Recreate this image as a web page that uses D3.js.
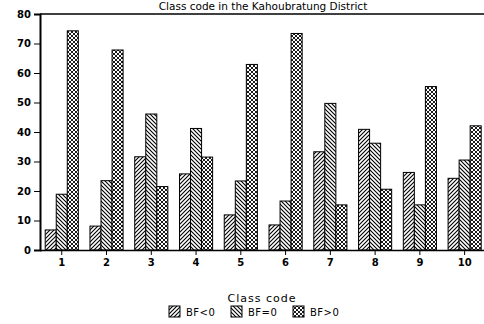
<!DOCTYPE html>
<html><head><meta charset="utf-8">
<script src="https://cdn.jsdelivr.net/npm/d3@7"></script>
<style>body{margin:0;background:#fff}svg{display:block}text{font-family:"DejaVu Sans",sans-serif;fill:#000}</style>
</head><body>
<svg id="c" width="484" height="324"></svg>
<script>
const categories = ["1","2","3","4","5","6","7","8","9","10"];
const seriesNames = ["BF<0","BF=0","BF>0"];
const bfNeg  = [6.8, 8.1, 31.6, 25.8, 11.9, 8.5, 33.3, 40.9, 26.3, 24.3];
const bfZero = [18.9, 23.5, 46.1, 41.2, 23.4, 16.6, 49.7, 36.2, 15.3, 30.5];
const bfPos  = [74.3, 67.8, 21.5, 31.5, 62.9, 73.4, 15.3, 20.6, 55.4, 42.1];
const yTicks = [0,10,20,30,40,50,60,70,80];
const title = "Class code in the Kahoubratung District";
const xTitle = "Class code";

const series = [bfNeg, bfZero, bfPos];
const svg = d3.select("#c");
const defs = svg.append("defs");
const pats = ["pNeg","pZero","pPos"];
let p = defs.append("pattern").attr("id","pNeg").attr("patternUnits","userSpaceOnUse").attr("width",4).attr("height",4);
p.append("rect").attr("width",4).attr("height",4).attr("fill","#fff");
p.append("path").attr("d","M-1,1 L1,-1 M0,4 L4,0 M3,5 L5,3").attr("stroke","#000").attr("stroke-width",1.1);
p = defs.append("pattern").attr("id","pZero").attr("patternUnits","userSpaceOnUse").attr("width",4).attr("height",4);
p.append("rect").attr("width",4).attr("height",4).attr("fill","#fff");
p.append("path").attr("d","M-1,3 L1,5 M0,0 L4,4 M3,-1 L5,1").attr("stroke","#000").attr("stroke-width",1.1);
p = defs.append("pattern").attr("id","pPos").attr("patternUnits","userSpaceOnUse").attr("width",4).attr("height",4);
p.append("rect").attr("width",4).attr("height",4).attr("fill","#fff");
p.append("path").attr("d","M-1,1 L1,-1 M0,4 L4,0 M3,5 L5,3 M-1,3 L1,5 M0,0 L4,4 M3,-1 L5,1").attr("stroke","#000").attr("stroke-width",0.9);

const L=40, R=484, T=14, B=250;
const x = d3.scaleBand().domain(categories).range([45.2, 481.2]).paddingInner(0.26).paddingOuter(0);
const xs = d3.scaleBand().domain(seriesNames).range([0, x.bandwidth()]);
const y = d3.scaleLinear().domain([0,80]).range([B,T]);

categories.forEach((c,i)=>{
  series.forEach((s,k)=>{
    svg.append("rect")
      .attr("x", x(c)+xs(seriesNames[k]))
      .attr("y", y(s[i]))
      .attr("width", xs.bandwidth())
      .attr("height", y(0)-y(s[i]))
      .attr("fill", "url(#"+pats[k]+")")
      .attr("stroke","#000").attr("stroke-width",1);
  });
});

const ya = svg.append("g").attr("transform",`translate(${L},0)`)
  .call(d3.axisLeft(y).tickValues(yTicks).tickSize(6).tickPadding(3).tickFormat(d3.format("d")));
ya.select(".domain").attr("stroke-width",2);
ya.selectAll("text").style("font-size","10px").style("font-weight","bold");
const xa = svg.append("g").attr("transform",`translate(0,${B})`)
  .call(d3.axisBottom(x).tickSize(5).tickPadding(4).tickSizeOuter(0));
xa.select(".domain").attr("d",`M${L},0.5H${R}`).attr("stroke-width",1.5);
xa.selectAll("text").style("font-size","10px").style("font-weight","bold");
svg.append("line").attr("x1",L).attr("x2",R).attr("y1",T).attr("y2",T).attr("stroke","#000").attr("stroke-width",1.5);

svg.append("text").attr("x",263).attr("y",10).attr("text-anchor","middle").style("font-size","10.5px").text(title);
svg.append("text").attr("x",262).attr("y",302).attr("text-anchor","middle").style("font-size","11px").style("letter-spacing","1px").text(xTitle);

const lg = svg.append("g").attr("transform","translate(169,306)");
const lx = [0, 62, 124];
seriesNames.forEach((n,k)=>{
  lg.append("rect").attr("x",lx[k]).attr("y",0).attr("width",11).attr("height",11)
    .attr("fill","url(#"+pats[k]+")").attr("stroke","#000");
  lg.append("text").attr("x",lx[k]+17).attr("y",10).style("font-size","10px").style("letter-spacing","0.5px").text(n);
});
</script>
</body></html>
